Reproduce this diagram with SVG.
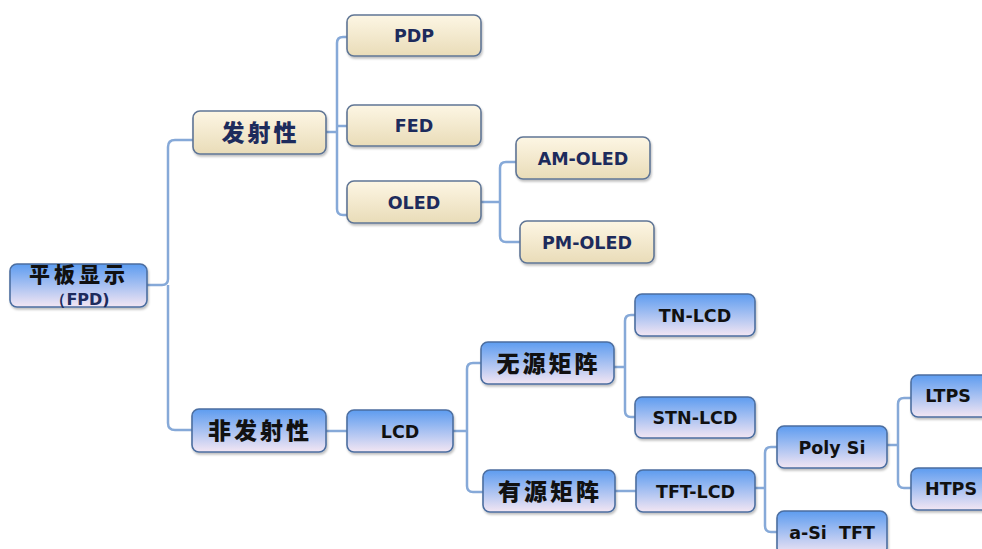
<svg xmlns="http://www.w3.org/2000/svg" width="982" height="549" viewBox="0 0 982 549">
<defs>
<linearGradient id="gBeige" x1="0" y1="0" x2="0" y2="1">
<stop offset="0" stop-color="#fdf6e4"/>
<stop offset="1" stop-color="#e9dcb8"/>
</linearGradient>
<linearGradient id="gBlue" x1="0" y1="0" x2="0" y2="1">
<stop offset="0" stop-color="#5d9cf0"/>
<stop offset="1" stop-color="#f3e6f3"/>
</linearGradient>
<filter id="sh" x="-10%" y="-10%" width="130%" height="140%">
<feDropShadow dx="1" dy="2" stdDeviation="1.2" flood-color="#000" flood-opacity="0.25"/>
</filter>
</defs>
<style>
.beige{fill:url(#gBeige);stroke:#5f7595;stroke-width:1.6;filter:url(#sh)}
.blue{fill:url(#gBlue);stroke:#4c6ea0;stroke-width:1.6;filter:url(#sh)}
.lat{font-family:"DejaVu Sans","Liberation Sans",sans-serif;font-weight:bold;font-size:17.5px;text-anchor:middle}
.cjk{font-family:"Noto Sans CJK SC","Noto Sans",sans-serif;font-weight:900;font-size:23px;letter-spacing:3px;text-anchor:middle}
.tb{fill:#1d2b5c}
.tk{fill:#111}
.con{fill:none;stroke:#86a9d8;stroke-width:2.5;stroke-linejoin:round}
</style>
<g id="connectors">
<path class="con" d="M147 285 H162 Q168 285 168 279 V147 Q168 140 175 140 H193"/>
<path class="con" d="M168 285 V423 Q168 430 175 430 H192"/>
<path class="con" d="M326 132 H337"/>
<path class="con" d="M347 37 H343 Q337 37 337 43 V209 Q337 215 343 215 H347"/>
<path class="con" d="M337 126 H347"/>
<path class="con" d="M481 202 H500"/>
<path class="con" d="M516 162 H506 Q500 162 500 168 V236 Q500 242 506 242 H520"/>
<path class="con" d="M326 431 H347"/>
<path class="con" d="M453 431 H467"/>
<path class="con" d="M481 363 H473 Q467 363 467 369 V486 Q467 492 473 492 H483"/>
<path class="con" d="M614 367 H625"/>
<path class="con" d="M635 315 H631 Q625 315 625 321 V411 Q625 417 631 417 H635"/>
<path class="con" d="M615 491 H636"/>
<path class="con" d="M755 488 H765"/>
<path class="con" d="M777 447 H771 Q765 447 765 453 V526 Q765 532 771 532 H777"/>
<path class="con" d="M887 445 H898"/>
<path class="con" d="M911 398 H904 Q898 398 898 404 V482 Q898 488 904 488 H911"/>
</g>
<g id="root">
<rect class="blue" x="10" y="264" width="137" height="43" rx="7"/>
<text class="cjk tk" x="79" y="282" style="font-size:21px;letter-spacing:4px">平板显示</text>
<text class="lat tb" x="80" y="304.5" style="font-size:16px">（FPD)</text>
</g>
<g id="emissive">
<rect class="beige" x="193" y="111" width="133" height="43" rx="7"/>
<text class="cjk tb" x="260.5" y="141">发射性</text>
</g>
<g id="pdp">
<rect class="beige" x="347" y="15" width="134" height="41" rx="7"/>
<text class="lat tb" x="414" y="42">PDP</text>
</g>
<g id="fed">
<rect class="beige" x="347" y="105" width="134" height="41" rx="7"/>
<text class="lat tb" x="414" y="132">FED</text>
</g>
<g id="oled">
<rect class="beige" x="347" y="181" width="134" height="42" rx="7"/>
<text class="lat tb" x="414" y="208.5">OLED</text>
</g>
<g id="am-oled">
<rect class="beige" x="516" y="137" width="134" height="42" rx="7"/>
<text class="lat tb" x="583" y="164.5">AM-OLED</text>
</g>
<g id="pm-oled">
<rect class="beige" x="520" y="221" width="134" height="42" rx="7"/>
<text class="lat tb" x="587" y="248.5">PM-OLED</text>
</g>
<g id="non-emissive">
<rect class="blue" x="192" y="409" width="134" height="43" rx="7"/>
<text class="cjk tk" x="260" y="439">非发射性</text>
</g>
<g id="lcd">
<rect class="blue" x="347" y="410" width="106" height="42" rx="7"/>
<text class="lat tk" x="400" y="437.5">LCD</text>
</g>
<g id="passive">
<rect class="blue" x="481" y="342" width="133" height="42" rx="7"/>
<text class="cjk tk" x="548.5" y="372">无源矩阵</text>
</g>
<g id="active">
<rect class="blue" x="483" y="470" width="132" height="42" rx="7"/>
<text class="cjk tk" x="550" y="500">有源矩阵</text>
</g>
<g id="tn-lcd">
<rect class="blue" x="635" y="294" width="120" height="42" rx="7"/>
<text class="lat tk" x="695" y="321.5">TN-LCD</text>
</g>
<g id="stn-lcd">
<rect class="blue" x="635" y="397" width="120" height="41" rx="7"/>
<text class="lat tk" x="695" y="424">STN-LCD</text>
</g>
<g id="tft-lcd">
<rect class="blue" x="636" y="470" width="119" height="42" rx="7"/>
<text class="lat tk" x="695.5" y="497.5">TFT-LCD</text>
</g>
<g id="poly-si">
<rect class="blue" x="777" y="426" width="110" height="42" rx="7"/>
<text class="lat tk" x="832" y="453.5">Poly Si</text>
</g>
<g id="a-si-tft">
<rect class="blue" x="777" y="511" width="110" height="44" rx="7"/>
<text class="lat tk" x="832" y="538.5" xml:space="preserve">a-Si  TFT</text>
</g>
<g id="ltps">
<rect class="blue" x="911" y="375" width="80" height="42" rx="7"/>
<text class="lat tk" x="948" y="401.5">LTPS</text>
</g>
<g id="htps">
<rect class="blue" x="911" y="468" width="80" height="42" rx="7"/>
<text class="lat tk" x="951" y="494.5">HTPS</text>
</g>
</svg>
